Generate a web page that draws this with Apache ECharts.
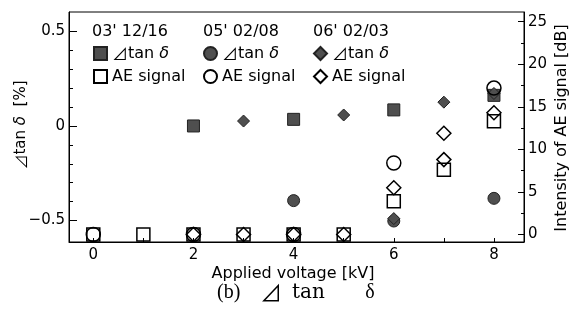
<!DOCTYPE html>
<html>
<head>
<meta charset="utf-8">
<script src="https://cdn.jsdelivr.net/npm/echarts@6/dist/echarts.min.js"></script>
<style>
  html, body { margin: 0; padding: 0; background: #fff; }
  #chart { width: 574px; height: 322px; }
</style>
</head>
<body>
<div id="chart"></div>
<script>
// Applied voltage [kV] and the measured values of three test campaigns.
// Delta tan-delta in [%] (left axis), AE signal intensity in [dB] (right axis).
const dtan0312 = [[2, 0.0], [4, 0.035], [6, 0.085], [8, 0.162]];
const dtan0502 = [[4, -0.395], [6, -0.503], [8, -0.383]];
const dtan0602 = [[3, 0.026], [5, 0.058], [6, -0.49], [7, 0.126], [8, 0.172]];

const ae0312 = [[0, 0], [1, 0], [2, 0], [3, 0], [4, 0], [5, 0], [6, 3.9], [7, 7.6], [8, 13.3]];
const ae0502 = [[0, 0], [2, 0], [4, 0], [6, 8.4], [8, 17.2]];
const ae0602 = [[2, 0], [3, 0], [4, 0], [5, 0], [6, 5.5], [7, 8.8], [7, 11.9], [8, 14.3]];

const campaigns = ["03' 12/16", "05' 02/08", "06' 02/03"];
const xLabels = [0, 2, 4, 6, 8];
const xTicks = [0, 1, 2, 3, 4, 5, 6, 7, 8];
const leftLabels = [-0.5, 0, 0.5];
const leftMinor = [-0.4, -0.3, -0.2, -0.1, 0.1, 0.2, 0.3, 0.4];
const rightLabels = [0, 5, 10, 15, 20, 25];
const rightMinor = [2.5, 7.5, 12.5, 17.5, 22.5];

const SANS = '"DejaVu Sans", "Noto Sans CJK JP", sans-serif';
const CJK = '"Noto Sans CJK JP", sans-serif';
const SERIF = '"Liberation Serif", "DejaVu Serif", serif';
const FILL = '#4f4f4f';

const nm = (c, kind) => c + ' ' + kind;

function filled(name, data, symbol, size) {
  return {
    type: 'scatter', name, data, symbol, symbolSize: size, yAxisIndex: 0,
    itemStyle: { color: FILL, borderColor: '#222', borderWidth: 1, opacity: 1 },
    emphasis: { disabled: true }, z: 3
  };
}
function open(name, data, symbol, size) {
  return {
    type: 'scatter', name, data, symbol, symbolSize: size, yAxisIndex: 2,
    itemStyle: { color: 'rgba(255,255,255,0)', borderColor: '#000', borderWidth: 1.5, opacity: 1 },
    emphasis: { disabled: true }, z: 4
  };
}

function legendAt(left, c) {
  return {
    orient: 'vertical', left, top: 45.5, padding: 0,
    itemWidth: 13, itemHeight: 13, itemGap: 7,
    selectedMode: false,
    data: [nm(c, 'dtan'), nm(c, 'AE')],
    formatter: n => n.endsWith('dtan') ? '{t|\u22BF}tan {d|\u03B4}' : 'AE signal',
    textStyle: {
      color: '#000', fontFamily: SANS, fontSize: 16,
      rich: {
        t: { fontFamily: CJK, fontSize: 16, color: '#000' },
        d: { fontFamily: SANS, fontSize: 16, fontStyle: 'italic', color: '#000' }
      }
    }
  };
}

const axisLineStyle = { show: true, onZero: false, lineStyle: { color: '#000', width: 1 } };
const tickFont = { color: '#000', fontFamily: SANS, fontSize: 15 };
const minus = v => String(v).replace('-', '\u2212');

const chart = echarts.init(document.getElementById('chart'), null, { renderer: 'canvas' });
chart.setOption({
  animation: false,
  backgroundColor: '#fff',
  grid: { left: 69, right: 50, top: 12, bottom: 80, show: true, borderColor: '#000', borderWidth: 1, backgroundColor: 'transparent' },
  xAxis: {
    type: 'value', min: -0.485, max: 8.6,
    axisLine: axisLineStyle,
    axisTick: { show: true, inside: true, length: 4, customValues: xTicks, lineStyle: { color: '#000' } },
    axisLabel: { customValues: xLabels, margin: 6, ...tickFont },
    splitLine: { show: false }
  },
  yAxis: [
    {
      type: 'value', position: 'left', min: -0.614, max: 0.603,
      axisLine: axisLineStyle,
      axisTick: { show: true, inside: true, length: 8, customValues: leftLabels, lineStyle: { color: '#000' } },
      axisLabel: { customValues: leftLabels, margin: 4, formatter: minus, ...tickFont },
      splitLine: { show: false }
    },
    {
      type: 'value', position: 'left', min: -0.614, max: 0.603,
      axisLine: { show: false, onZero: false },
      axisTick: { show: true, inside: true, length: 4, customValues: leftMinor, lineStyle: { color: '#000' } },
      axisLabel: { show: false },
      splitLine: { show: false }
    },
    {
      type: 'value', position: 'right', min: -0.88, max: 26.14,
      axisLine: axisLineStyle,
      axisTick: { show: true, inside: true, length: 6, customValues: rightLabels, lineStyle: { color: '#000' } },
      axisLabel: { customValues: rightLabels, margin: 4, ...tickFont },
      splitLine: { show: false }
    },
    {
      type: 'value', position: 'right', min: -0.88, max: 26.14,
      axisLine: { show: false, onZero: false },
      axisTick: { show: true, inside: true, length: 3, customValues: rightMinor, lineStyle: { color: '#000' } },
      axisLabel: { show: false },
      splitLine: { show: false }
    }
  ],
  legend: [
    legendAt(93, campaigns[0]),
    legendAt(203, campaigns[1]),
    legendAt(313, campaigns[2])
  ],
  series: [
    filled(nm(campaigns[0], 'dtan'), dtan0312, 'rect', 12),
    filled(nm(campaigns[1], 'dtan'), dtan0502, 'circle', 12),
    filled(nm(campaigns[2], 'dtan'), dtan0602, 'diamond', 12),
    open(nm(campaigns[0], 'AE'), ae0312, 'rect', 13),
    open(nm(campaigns[1], 'AE'), ae0502, 'circle', 14),
    open(nm(campaigns[2], 'AE'), ae0602, 'diamond', 14)
  ],
  graphic: [
    // campaign headings above each legend column
    { type: 'text', left: 92, top: 24, style: { text: campaigns[0], font: '16px ' + SANS, fill: '#000' } },
    { type: 'text', left: 203, top: 24, style: { text: campaigns[1], font: '16px ' + SANS, fill: '#000' } },
    { type: 'text', left: 313, top: 24, style: { text: campaigns[2], font: '16px ' + SANS, fill: '#000' } },
    // axis titles
    {
      type: 'text', x: 21, y: 125, rotation: Math.PI / 2,
      style: {
        text: '{t|\u22BF}tan {d|\u03B4}  [%]', align: 'center', verticalAlign: 'middle',
        font: '15px ' + SANS, fill: '#000',
        rich: {
          t: { font: '15px ' + CJK, fill: '#000' },
          d: { font: 'italic 15px ' + SANS, fill: '#000' }
        }
      }
    },
    {
      type: 'text', x: 562, y: 128, rotation: Math.PI / 2,
      style: { text: 'Intensity of AE signal [dB]', align: 'center', verticalAlign: 'middle', font: '16px ' + SANS, fill: '#000' }
    },
    {
      type: 'text', x: 293, y: 274,
      style: { text: 'Applied voltage [kV]', align: 'center', verticalAlign: 'middle', font: '16px ' + SANS, fill: '#000' }
    },
    // caption
    { type: 'text', x: 217, y: 293, style: { text: '(b)', align: 'left', verticalAlign: 'middle', font: '20px ' + SERIF, fill: '#000' } },
    { type: 'text', x: 271, y: 293, style: { text: '\u22BF', align: 'center', verticalAlign: 'middle', font: '22px ' + CJK, fill: '#000' } },
    { type: 'text', x: 292, y: 293, style: { text: 'tan', align: 'left', verticalAlign: 'middle', font: '20px "DejaVu Serif", serif', fill: '#000' } },
    { type: 'text', x: 370, y: 293, style: { text: '\u03B4', align: 'center', verticalAlign: 'middle', font: '20px ' + SERIF, fill: '#000' } }
  ]
});
</script>
</body>
</html>
